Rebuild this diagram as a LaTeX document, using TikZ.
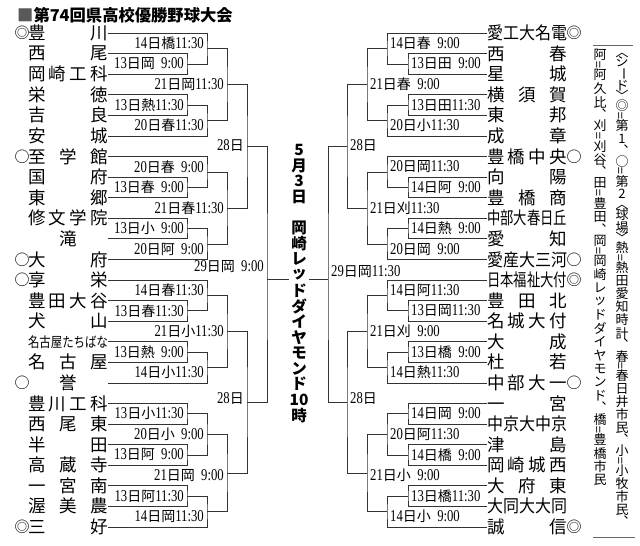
\documentclass[tikz,border=0pt]{standalone}
\usepackage{fontspec}
\usepackage{graphicx}
\setmainfont{Noto Sans CJK JP}
\newfontfamily\dgf{Liberation Serif}
\usetikzlibrary{calc}
\ExplSyntaxOn
\dim_new:N \l__tt_h_dim
\dim_new:N \l__tt_w_dim
\cs_new_protected:Npn \__tt_cell:nn #1#2
  {
    \hbox_to_wd:nn { \l__tt_w_dim }
      { \hss \vbox_to_ht:nn { #1 } { \vss \hbox:n { #2 } \vss } \hss }
  }
\cs_new_protected:Npn \__tt_item:n #1
  {
    \tl_if_single_token:nTF { #1 }
      { \token_if_cs:NTF #1 { #1 } { \__tt_cell:nn { \l__tt_h_dim } { #1 } } }
      { \__tt_cell:nn { \l__tt_h_dim } { #1 } }
  }
\NewDocumentCommand \tate { m m m }
  {
    \group_begin:
      \dim_set:Nn \l__tt_h_dim { #1 }
      \dim_set:Nn \l__tt_w_dim { #2 }
      \vbox:n { \offinterlineskip \tl_map_inline:nn { #3 } { \__tt_item:n { ##1 } } }
    \group_end:
  }
\cs_new_protected:Npn \vEq { \__tt_cell:nn { 0.5\l__tt_h_dim } { \rotatebox[origin=c]{90}{=} } }
\cs_new_protected:Npn \vCm { \__tt_cell:nn { 0.75\l__tt_h_dim } { ︑ } }
\cs_new_protected:Npn \vLa { \__tt_cell:nn { 0.55\l__tt_h_dim } { \rotatebox[origin=c]{-90}{〈} } }
\cs_new_protected:Npn \vRa { \__tt_cell:nn { 0.55\l__tt_h_dim } { \rotatebox[origin=c]{-90}{〉} } }
\cs_new_protected:Npn \vBar { \__tt_cell:nn { 0.8\l__tt_h_dim } { \rotatebox[origin=c]{-90}{ー} } }
\ExplSyntaxOff
\newcommand\dg[1]{{\dgf\fontsize{16.5}{16.5}\selectfont\scalebox{0.77}[1]{#1}}}
\newcommand\lab[3]{\dg{#1}#2\dg{#3}}
\newcommand\nnn{\phantom{1}}
\newcommand\nmw{80pt}
\newcommand\nm[1]{\makebox[\nmw][s]{#1}}
\newcommand\nmc[1]{\makebox[\nmw][c]{#1}}
\newcommand\nml[1]{\resizebox{\nmw}{\height}{#1}}
\tikzset{
  br/.style={draw=black!80, line width=0.7pt},
  tm/.style={inner sep=0pt, font=\fontsize{17.5}{17.5}\selectfont},
  sy/.style={inner sep=0pt, font=\fontsize{15}{15}\selectfont},
  lbl/.style={inner sep=0pt, font=\fontsize{14}{14}\selectfont},
  lbll/.style={lbl, anchor=east},
  lblr/.style={lbl, anchor=west},
  note/.style={inner sep=0pt, anchor=north, font=\fontsize{13}{13}\selectfont},
}
\begin{document}
\begin{tikzpicture}[x=1pt,y=-1pt]
\useasboundingbox (0,0) rectangle (640,546);
% title
\node[anchor=west, inner sep=0pt, font=\fontsize{16.3}{16.3}\selectfont\bfseries] (title) at (17,15) {{\color{black!65}■}第74回県高校優勝野球大会};
% left teams
\node[tm] (L1) at (68,33) {\nm{豊\hfill 川}};
\node[tm] (L2) at (68,53.58) {\nm{西\hfill 尾}};
\node[tm] (L3) at (68,74.16) {\nm{岡\hfill 崎\hfill 工\hfill 科}};
\node[tm] (L4) at (68,94.74) {\nm{栄\hfill 徳}};
\node[tm] (L5) at (68,115.32) {\nm{吉\hfill 良}};
\node[tm] (L6) at (68,135.90) {\nm{安\hfill 城}};
\node[tm] (L7) at (68,156.48) {\nm{至\hfill 学\hfill 館}};
\node[tm] (L8) at (68,177.06) {\nm{国\hfill 府}};
\node[tm] (L9) at (68,197.64) {\nm{東\hfill 郷}};
\node[tm] (L10) at (68,218.22) {\nm{修\hfill 文\hfill 学\hfill 院}};
\node[tm] (L11) at (68,238.80) {\nmc{滝}};
\node[tm] (L12) at (68,259.38) {\nm{大\hfill 府}};
\node[tm] (L13) at (68,279.96) {\nm{享\hfill 栄}};
\node[tm] (L14) at (68,300.54) {\nm{豊\hfill 田\hfill 大\hfill 谷}};
\node[tm] (L15) at (68,321.12) {\nm{犬\hfill 山}};
\node[tm] (L16) at (68,341.70) {\fontsize{14}{14}\selectfont\nml{名古屋たちばな}};
\node[tm] (L17) at (68,362.28) {\nm{名\hfill 古\hfill 屋}};
\node[tm] (L18) at (68,382.86) {\nmc{誉}};
\node[tm] (L19) at (68,403.44) {\nm{豊\hfill 川\hfill 工\hfill 科}};
\node[tm] (L20) at (68,424.02) {\nm{西\hfill 尾\hfill 東}};
\node[tm] (L21) at (68,444.60) {\nm{半\hfill 田}};
\node[tm] (L22) at (68,465.18) {\nm{高\hfill 蔵\hfill 寺}};
\node[tm] (L23) at (68,485.76) {\nm{一\hfill 宮\hfill 南}};
\node[tm] (L24) at (68,506.34) {\nm{渥\hfill 美\hfill 農}};
\node[tm] (L25) at (68,526.92) {\nm{三\hfill 好}};
\node[sy] (S1) at (22,33) {◎};
\node[sy] (S7) at (22,156.48) {○};
\node[sy] (S12) at (22,259.38) {○};
\node[sy] (S13) at (22,279.96) {○};
\node[sy] (S18) at (22,382.86) {○};
\node[sy] (S25) at (22,526.92) {◎};
% right teams
\node[tm] (R1) at (527,33) {\nml{愛工大名電}};
\node[tm] (R2) at (527,53.58) {\nm{西\hfill 春}};
\node[tm] (R3) at (527,74.16) {\nm{星\hfill 城}};
\node[tm] (R4) at (527,94.74) {\nm{横\hfill 須\hfill 賀}};
\node[tm] (R5) at (527,115.32) {\nm{東\hfill 邦}};
\node[tm] (R6) at (527,135.90) {\nm{成\hfill 章}};
\node[tm] (R7) at (527,156.48) {\nm{豊\hfill 橋\hfill 中\hfill 央}};
\node[tm] (R8) at (527,177.06) {\nm{向\hfill 陽}};
\node[tm] (R9) at (527,197.64) {\nm{豊\hfill 橋\hfill 商}};
\node[tm] (R10) at (527,218.22) {\nml{中部大春日丘}};
\node[tm] (R11) at (527,238.80) {\nm{愛\hfill 知}};
\node[tm] (R12) at (527,259.38) {\nml{愛産大三河}};
\node[tm] (R13) at (527,279.96) {\nml{日本福祉大付}};
\node[tm] (R14) at (527,300.54) {\nm{豊\hfill 田\hfill 北}};
\node[tm] (R15) at (527,321.12) {\nm{名\hfill 城\hfill 大\hfill 付}};
\node[tm] (R16) at (527,341.70) {\nm{大\hfill 成}};
\node[tm] (R17) at (527,362.28) {\nm{杜\hfill 若}};
\node[tm] (R18) at (527,382.86) {\nm{中\hfill 部\hfill 大\hfill 一}};
\node[tm] (R19) at (527,403.44) {\nm{一\hfill 宮}};
\node[tm] (R20) at (527,424.02) {\nml{中京大中京}};
\node[tm] (R21) at (527,444.60) {\nm{津\hfill 島}};
\node[tm] (R22) at (527,465.18) {\nm{岡\hfill 崎\hfill 城\hfill 西}};
\node[tm] (R23) at (527,485.76) {\nm{大\hfill 府\hfill 東}};
\node[tm] (R24) at (527,506.34) {\nml{大同大大同}};
\node[tm] (R25) at (527,526.92) {\nm{誠\hfill 信}};
\node[sy] (T1) at (574,33) {◎};
\node[sy] (T7) at (574,156.48) {○};
\node[sy] (T12) at (574,259.38) {○};
\node[sy] (T13) at (574,279.96) {◎};
\node[sy] (T18) at (574,382.86) {○};
\node[sy] (T25) at (574,526.92) {◎};
% left game points
\coordinate (gA) at (187,63.87);
\coordinate (gB) at (207,48.435);
\coordinate (gC) at (187,105.03);
\coordinate (gD) at (207,120.465);
\coordinate (gE) at (227,84.45);
\coordinate (gF) at (187,187.35);
\coordinate (gG) at (207,171.915);
\coordinate (gH) at (187,228.51);
\coordinate (gI) at (207,243.945);
\coordinate (gJ) at (227,207.93);
\coordinate (gK) at (247,146.19);
\coordinate (gL) at (187,310.83);
\coordinate (gM) at (207,295.395);
\coordinate (gN) at (187,351.99);
\coordinate (gO) at (207,367.425);
\coordinate (gP) at (227,331.41);
\coordinate (gQ) at (187,413.73);
\coordinate (gR) at (187,454.89);
\coordinate (gS) at (207,434.31);
\coordinate (gT) at (187,496.05);
\coordinate (gU) at (207,511.485);
\coordinate (gV) at (227,472.8975);
\coordinate (gW) at (247,402.15);
\coordinate (gX) at (267,279);
% right game points
\coordinate (ga) at (408,63.87);
\coordinate (gb) at (387,48.435);
\coordinate (gc) at (408,105.03);
\coordinate (gd) at (387,120.465);
\coordinate (ge) at (367,84.45);
\coordinate (gf) at (408,187.35);
\coordinate (gg) at (387,171.915);
\coordinate (gh) at (408,228.51);
\coordinate (gi) at (387,243.945);
\coordinate (gj) at (367,207.93);
\coordinate (gk) at (347,146.19);
\coordinate (gl) at (408,310.83);
\coordinate (gm) at (387,295.395);
\coordinate (gn) at (408,351.99);
\coordinate (go) at (387,367.425);
\coordinate (gp) at (367,331.41);
\coordinate (gq) at (408,413.73);
\coordinate (gr) at (408,454.89);
\coordinate (gs) at (387,434.31);
\coordinate (gt) at (408,496.05);
\coordinate (gu) at (387,511.485);
\coordinate (gv) at (367,472.8975);
\coordinate (gw) at (347,402.15);
\coordinate (gx) at (328,279);
% left brackets
\draw[br] (L2.east) -| (gA) |- (L3.east);
\draw[br] (L1.east) -| (gB) |- (gA);
\draw[br] (L4.east) -| (gC) |- (L5.east);
\draw[br] (gC) -| (gD) |- (L6.east);
\draw[br] (gB) -| (gE) |- (gD);
\draw[br] (L8.east) -| (gF) |- (L9.east);
\draw[br] (L7.east) -| (gG) |- (gF);
\draw[br] (L10.east) -| (gH) |- (L11.east);
\draw[br] (gH) -| (gI) |- (L12.east);
\draw[br] (gG) -| (gJ) |- (gI);
\draw[br] (gE) -| (gK) |- (gJ);
\draw[br] (L14.east) -| (gL) |- (L15.east);
\draw[br] (L13.east) -| (gM) |- (gL);
\draw[br] (L16.east) -| (gN) |- (L17.east);
\draw[br] (gN) -| (gO) |- (L18.east);
\draw[br] (gM) -| (gP) |- (gO);
\draw[br] (L19.east) -| (gQ) |- (L20.east);
\draw[br] (L21.east) -| (gR) |- (L22.east);
\draw[br] (gQ) -| (gS) |- (gR);
\draw[br] (L23.east) -| (gT) |- (L24.east);
\draw[br] (gT) -| (gU) |- (L25.east);
\draw[br] (gS) -| (gV) |- (gU);
\draw[br] (gP) -| (gW) |- (gV);
\draw[br] (gK) -| (gX) |- (gW);
% right brackets
\draw[br] (R2.west) -| (ga) |- (R3.west);
\draw[br] (R1.west) -| (gb) |- (ga);
\draw[br] (R4.west) -| (gc) |- (R5.west);
\draw[br] (gc) -| (gd) |- (R6.west);
\draw[br] (gb) -| (ge) |- (gd);
\draw[br] (R8.west) -| (gf) |- (R9.west);
\draw[br] (R7.west) -| (gg) |- (gf);
\draw[br] (R10.west) -| (gh) |- (R11.west);
\draw[br] (gh) -| (gi) |- (R12.west);
\draw[br] (gg) -| (gj) |- (gi);
\draw[br] (ge) -| (gk) |- (gj);
\draw[br] (R14.west) -| (gl) |- (R15.west);
\draw[br] (R13.west) -| (gm) |- (gl);
\draw[br] (R16.west) -| (gn) |- (R17.west);
\draw[br] (gn) -| (go) |- (R18.west);
\draw[br] (gm) -| (gp) |- (go);
\draw[br] (R19.west) -| (gq) |- (R20.west);
\draw[br] (R21.west) -| (gr) |- (R22.west);
\draw[br] (gq) -| (gs) |- (gr);
\draw[br] (R23.west) -| (gt) |- (R24.west);
\draw[br] (gt) -| (gu) |- (R25.west);
\draw[br] (gs) -| (gv) |- (gu);
\draw[br] (gp) -| (gw) |- (gv);
\draw[br] (gk) -| (gx) |- (gw);
% final
\draw[br] (gX) -- (gx);
% left labels
\node[lbll] (dA) at (184,63.87) {\lab{13}{日岡}{\nnn 9:00}};
\node[lbll] (dB) at (204,43.29) {\lab{14}{日橋}{11:30}};
\node[lbll] (dC) at (184,105.03) {\lab{13}{日熱}{11:30}};
\node[lbll] (dD) at (204,125.61) {\lab{20}{日春}{11:30}};
\node[lbll] (dE) at (224,84.45) {\lab{21}{日岡}{11:30}};
\node[lbll] (dF) at (184,187.35) {\lab{13}{日春}{\nnn 9:00}};
\node[lbll] (dG) at (204,166.77) {\lab{20}{日春}{\nnn 9:00}};
\node[lbll] (dH) at (184,228.51) {\lab{13}{日小}{\nnn 9:00}};
\node[lbll] (dI) at (204,249.09) {\lab{20}{日阿}{\nnn 9:00}};
\node[lbll] (dJ) at (224,207.93) {\lab{21}{日春}{11:30}};
\node[lbll] (dK) at (244,145) {\dg{28}日};
\node[lbll] (dL) at (184,310.83) {\lab{13}{日春}{11:30}};
\node[lbll] (dM) at (204,290.25) {\lab{14}{日春}{11:30}};
\node[lbll] (dN) at (184,351.99) {\lab{13}{日熱}{\nnn 9:00}};
\node[lbll] (dO) at (204,372.57) {\lab{14}{日小}{11:30}};
\node[lbll] (dP) at (224,331.41) {\lab{21}{日小}{11:30}};
\node[lbll] (dQ) at (184,413.73) {\lab{13}{日小}{11:30}};
\node[lbll] (dR) at (184,454.89) {\lab{13}{日阿}{\nnn 9:00}};
\node[lbll] (dS) at (204,434.31) {\lab{20}{日小}{\nnn 9:00}};
\node[lbll] (dT) at (184,496.05) {\lab{13}{日阿}{11:30}};
\node[lbll] (dU) at (204,516.63) {\lab{14}{日岡}{11:30}};
\node[lbll] (dV) at (224,475.47) {\lab{21}{日岡}{\nnn 9:00}};
\node[lbll] (dW) at (244,398) {\dg{28}日};
\node[lbll] (dX) at (264,267) {\lab{29}{日岡}{\nnn 9:00}};
% right labels
\node[lblr] (ea) at (411,63.87) {\lab{13}{日田}{\nnn 9:00}};
\node[lblr] (eb) at (390,43.29) {\lab{14}{日春}{\nnn 9:00}};
\node[lblr] (ec) at (411,105.03) {\lab{13}{日田}{11:30}};
\node[lblr] (ed) at (390,125.61) {\lab{20}{日小}{11:30}};
\node[lblr] (ee) at (370,84.45) {\lab{21}{日春}{\nnn 9:00}};
\node[lblr] (ef) at (411,187.35) {\lab{14}{日阿}{\nnn 9:00}};
\node[lblr] (eg) at (390,166.77) {\lab{20}{日岡}{11:30}};
\node[lblr] (eh) at (411,228.51) {\lab{14}{日熱}{\nnn 9:00}};
\node[lblr] (ei) at (390,249.09) {\lab{20}{日岡}{\nnn 9:00}};
\node[lblr] (ej) at (370,207.93) {\lab{21}{日刈}{11:30}};
\node[lblr] (ek) at (350,145) {\dg{28}日};
\node[lblr] (el) at (411,310.83) {\lab{13}{日岡}{11:30}};
\node[lblr] (em) at (390,290.25) {\lab{14}{日阿}{11:30}};
\node[lblr] (en) at (411,351.99) {\lab{13}{日橋}{\nnn 9:00}};
\node[lblr] (eo) at (390,372.57) {\lab{14}{日熱}{11:30}};
\node[lblr] (ep) at (370,331.41) {\lab{21}{日刈}{\nnn 9:00}};
\node[lblr] (eq) at (411,413.73) {\lab{14}{日岡}{\nnn 9:00}};
\node[lblr] (er) at (411,454.89) {\lab{14}{日橋}{\nnn 9:00}};
\node[lblr] (es) at (390,434.31) {\lab{20}{日阿}{11:30}};
\node[lblr] (et) at (411,496.05) {\lab{13}{日橋}{11:30}};
\node[lblr] (eu) at (390,516.63) {\lab{14}{日小}{\nnn 9:00}};
\node[lblr] (ev) at (370,475.47) {\lab{21}{日小}{\nnn 9:00}};
\node[lblr] (ew) at (350,398) {\dg{28}日};
\node[lblr] (ex) at (331,272) {\lab{29}{日岡}{11:30}};
% central vertical text
\node[inner sep=0pt, fill=white, font=\fontsize{15.5}{15.5}\selectfont\bfseries] (vt) at (299,282.6)
  {\tate{15.6pt}{20pt}{5月3日{}岡崎レッドダイヤモンド{10}時}};
% notes column
\coordinate (ra) at (593,45);
\coordinate (rb) at (633,45);
\coordinate (rc) at (593,537);
\coordinate (rd) at (635,537);
\draw[br, draw=black!60] (ra) -- (rb);
\draw[br, draw=black!60] (rc) -- (rd);
\node[note] (n1) at (622,48) {\tate{13.1pt}{15pt}{\vLa シ\vBar ド\vRa ◎\vEq 第1\vCm ○\vEq 第2\vLa 球場\vRa 熱\vEq 熱田愛知時計\vCm 春\vEq 春日井市民\vCm 小\vEq 小牧市民\vCm}};
\node[note] (n2) at (600,48) {\tate{13.5pt}{15pt}{阿\vEq 阿久比\vCm 刈\vEq 刈谷\vCm 田\vEq 豊田\vCm 岡\vEq 岡崎レッドダイヤモンド\vCm 橋\vEq 豊橋市民}};
\end{tikzpicture}
\end{document}
